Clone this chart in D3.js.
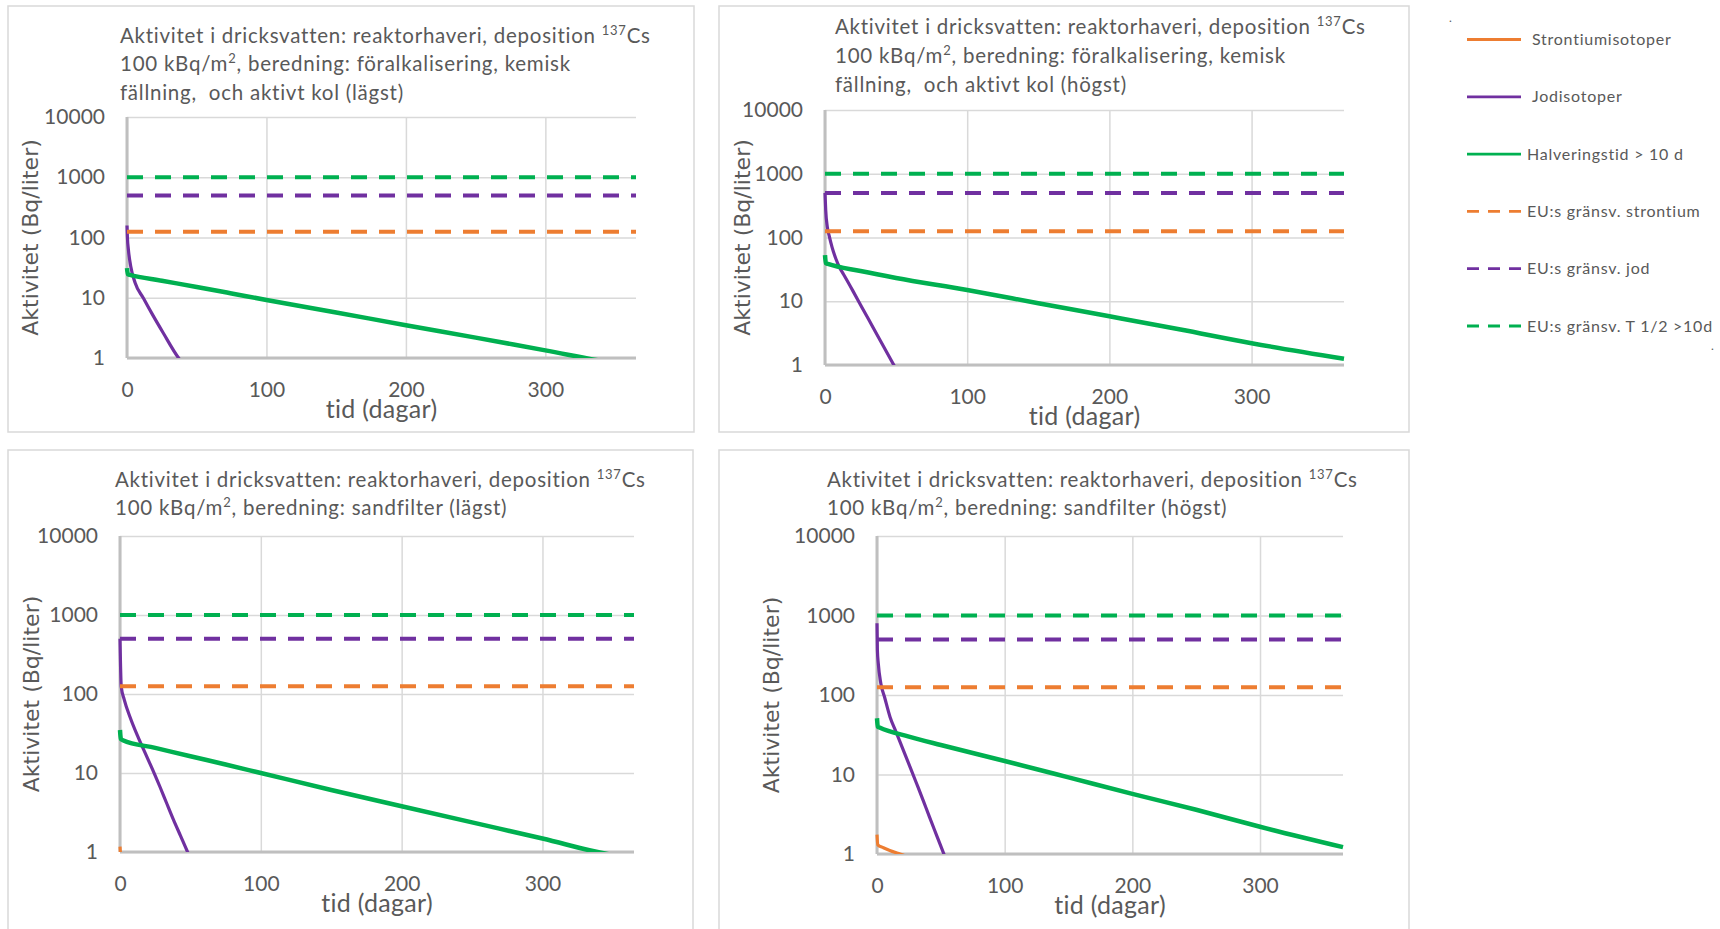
<!DOCTYPE html>
<html>
<head>
<meta charset="utf-8">
<script src="https://cdn.jsdelivr.net/npm/d3@7"></script>
<style>
  body { margin: 0; background: #fff; }
  svg { display: block; }
  text { font-family: Lato, "Open Sans", sans-serif; fill: #595959; white-space: pre; }
</style>
</head>
<body>
<div id="chart"></div>
<script>
// axis ticks and labels
const xTicks = [0, 100, 200, 300];
const yTicks = [1, 10, 100, 1000, 10000];
const xMax = 365;
const xLabel = "tid (dagar)";
const yLabel = "Aktivitet (Bq/liter)";
const legendLabels = ["Strontiumisotoper", "Jodisotoper", "Halveringstid > 10 d",
  "EU:s gränsv. strontium", "EU:s gränsv. jod", "EU:s gränsv. T 1/2 >10d"];
// EU limits: strontium, jod, T1/2 > 10 d
const limitValues = [125, 500, 1000];

// titles: odd segments are superscripts
const titleP1 = [["Aktivitet i dricksvatten: reaktorhaveri, deposition ", "137", "Cs"],
  ["100 kBq/m", "2", ", beredning: föralkalisering, kemisk"],
  ["fällning,  och aktivt kol (lägst)"]];
const titleP2 = [["Aktivitet i dricksvatten: reaktorhaveri, deposition ", "137", "Cs"],
  ["100 kBq/m", "2", ", beredning: föralkalisering, kemisk"],
  ["fällning,  och aktivt kol (högst)"]];
const titleP3 = [["Aktivitet i dricksvatten: reaktorhaveri, deposition ", "137", "Cs"],
  ["100 kBq/m", "2", ", beredning: sandfilter (lägst)"]];
const titleP4 = [["Aktivitet i dricksvatten: reaktorhaveri, deposition ", "137", "Cs"],
  ["100 kBq/m", "2", ", beredning: sandfilter (högst)"]];

// series [day, Bq/liter]
const srP1 = [];
const jodP1 = [[0,158],[0.3,100],[1,63],[2.7,33],[5.8,17.8],[11.8,9.8],[17.8,5.5],[26,2.6],[37,1],[42,0.72]];
const halvP1 = [[0,31],[0.6,24.5],[2,24],[25,19.2],[50,15.1],[75,11.8],[100,9.2],[150,5.7],[200,3.5],[250,2.18],[300,1.34],[350,0.83],[365,0.76]];

const srP2 = [];
const jodP2 = [[0,500],[0.5,270],[1.6,148],[3,105],[5,70],[7.7,46],[10.5,33],[13,26.5],[19.8,14.3],[26,8],[33.9,3.85],[41,1.99],[48.4,1],[52,0.72]];
const halvP2 = [[0,53],[0.6,39.5],[2,38.5],[25,29.8],[50,23.2],[100,15],[150,9.3],[200,5.8],[250,3.6],[300,2.2],[365,1.25]];

const srP3 = [[0,1.17],[0.5,0.9],[2,0.8]];
const jodP3 = [[0,500],[0.3,270],[0.9,123],[3,85],[7.3,50],[13,28],[19.1,16],[24,10.2],[28.5,6.6],[33,4.2],[38,2.55],[43,1.6],[48,1],[52,0.7]];
const halvP3 = [[0,35],[0.6,27],[2,26],[25,20.8],[50,16.3],[75,12.8],[100,10],[150,6.1],[200,3.8],[250,2.37],[300,1.48],[350,0.92],[365,0.86]];

const srP4 = [[0,1.75],[0.6,1.3],[5,1.2],[10,1.11],[18,1],[22,0.95]];
const jodP4 = [[0,800],[0.3,368],[1,250],[3,140],[6,93],[10.2,53],[15,34],[20.6,20.3],[26,12.3],[31,7.7],[36,4.8],[41,2.95],[47,1.67],[52.4,1],[56,0.72]];
const halvP4 = [[0,51],[0.6,40],[2,39],[25,30],[50,23.5],[100,14.8],[150,9.2],[200,5.7],[250,3.6],[300,2.2],[365,1.22]];

const colors = {sr: "#ED7D31", jod: "#7030A0", halv: "#00B050"};

// layout of the four panels
const panels = [
  {box:[8,6,694,432], plot:[127,636,117,358], titleX:120, titleY:42.7, yTitleX:30,
   title:titleP1, sr:srP1, jod:jodP1, halv:halvP1},
  {box:[719,6,1409,432], plot:[825,1344,110,365], titleX:835, titleY:34.3, yTitleX:742,
   title:titleP2, sr:srP2, jod:jodP2, halv:halvP2},
  {box:[8,450,693,960], plot:[120,634,536,852], titleX:115, titleY:486.7, yTitleX:31,
   title:titleP3, sr:srP3, jod:jodP3, halv:halvP3},
  {box:[719,450,1409,960], plot:[877,1343,536,854], titleX:827, titleY:486.7, yTitleX:771,
   title:titleP4, sr:srP4, jod:jodP4, halv:halvP4}
];

const W = 1720, H = 929;
const svg = d3.select("#chart").append("svg").attr("width", W).attr("height", H);

panels.forEach((p, i) => {
  const [x0, x1, y0, y1] = p.plot;
  const x = d3.scaleLinear().domain([0, xMax]).range([x0, x1]);
  const y = d3.scaleLog().domain([1, 10000]).range([y1, y0]);
  const g = svg.append("g");

  // panel border
  g.append("rect")
    .attr("x", p.box[0]).attr("y", p.box[1])
    .attr("width", p.box[2] - p.box[0]).attr("height", p.box[3] - p.box[1])
    .attr("fill", "none").attr("stroke", "#d9d9d9").attr("stroke-width", 1.5);

  // title
  const t = g.append("text").attr("font-size", 20.5).style("letter-spacing", "0.75px");
  p.title.forEach((line, li) => {
    line.forEach((seg, si) => {
      const ts = t.append("tspan").text(seg);
      if (si === 0) ts.attr("x", p.titleX).attr("y", p.titleY + li * 28.6);
      if (si % 2 === 1) ts.attr("font-size", 13).attr("dy", -8);
      else if (si > 0) ts.attr("dy", 8);
    });
  });

  // gridlines
  g.append("g").attr("transform", `translate(${x0},0)`)
    .call(d3.axisLeft(y).tickValues(yTicks).tickSize(-(x1 - x0)).tickFormat(""))
    .call(a => a.select(".domain").remove())
    .selectAll("line").attr("stroke", "#d9d9d9").attr("stroke-width", 1.5);
  g.append("g").attr("transform", `translate(0,${y1})`)
    .call(d3.axisBottom(x).tickValues(xTicks).tickSize(-(y1 - y0)).tickFormat(""))
    .call(a => a.select(".domain").remove())
    .selectAll("line").attr("stroke", "#d9d9d9").attr("stroke-width", 1.5);

  // axis lines
  g.append("line").attr("x1", x(0)).attr("x2", x(0)).attr("y1", y(10000)).attr("y2", y(1))
    .attr("stroke", "#bfbfbf").attr("stroke-width", 3);
  g.append("line").attr("x1", x(0)).attr("x2", x(xMax)).attr("y1", y(1)).attr("y2", y(1))
    .attr("stroke", "#bfbfbf").attr("stroke-width", 3);

  // tick labels
  g.append("g").attr("transform", `translate(${x0},0)`)
    .call(d3.axisLeft(y).tickValues(yTicks).tickSize(0).tickPadding(22).tickFormat(d3.format("d")))
    .call(a => a.select(".domain").remove())
    .selectAll("text").attr("font-size", 21).attr("font-family", "Lato").attr("fill", "#595959");
  g.append("g").attr("transform", `translate(0,${y1})`)
    .call(d3.axisBottom(x).tickValues(xTicks).tickSize(0).tickPadding(24))
    .call(a => a.select(".domain").remove())
    .selectAll("text").attr("font-size", 21).attr("font-family", "Lato").attr("fill", "#595959");

  // axis titles
  g.append("text").attr("x", (x0 + x1) / 2).attr("y", y1 + 60)
    .attr("text-anchor", "middle").attr("font-size", 25).style("letter-spacing", "0.3px")
    .text(xLabel);
  g.append("text")
    .attr("transform", `translate(${p.yTitleX},${(y0 + y1) / 2}) rotate(-90)`)
    .attr("text-anchor", "middle").attr("dy", "0.35em")
    .attr("font-size", 22).style("font-family", "'DejaVu Sans', sans-serif")
    .text(yLabel);

  // clip lines to the plot's value range
  g.append("clipPath").attr("id", "clip" + i)
    .append("rect").attr("x", x0 - 6).attr("y", y0).attr("width", x1 - x0 + 14).attr("height", y1 - y0);
  const plot = g.append("g").attr("clip-path", `url(#clip${i})`);

  const line = d3.line().x(d => x(d[0])).y(d => y(d[1])).curve(d3.curveMonotoneX);

  [[p.sr, colors.sr, 3.2], [p.jod, colors.jod, 3.2], [p.halv, colors.halv, 4.5]].forEach(([data, c, w]) => {
    if (!data.length) return;
    plot.append("path").datum(data).attr("d", line)
      .attr("fill", "none").attr("stroke", c).attr("stroke-width", w)
      .attr("stroke-linejoin", "round");
  });

  const limitColors = [colors.sr, colors.jod, colors.halv];
  limitValues.forEach((v, k) => {
    plot.append("path").datum([[0, v], [xMax, v]]).attr("d", line)
      .attr("fill", "none").attr("stroke", limitColors[k]).attr("stroke-width", 4)
      .attr("stroke-dasharray", "16,12");
  });
});

// legend
const legendColors = [colors.sr, colors.jod, colors.halv, colors.sr, colors.jod, colors.halv];
const legend = svg.append("g");
legendLabels.forEach((lab, k) => {
  const ly = 39.5 + k * 57.3;
  legend.append("line").attr("x1", 1467).attr("x2", 1521).attr("y1", ly).attr("y2", ly)
    .attr("stroke", legendColors[k]).attr("stroke-width", 2.8)
    .attr("stroke-dasharray", k > 2 ? "12,9" : null);
  legend.append("text").attr("x", k < 2 ? 1532 : 1527).attr("y", ly).attr("dy", "0.35em")
    .attr("font-size", 16).style("letter-spacing", "0.75px").text(lab);
});
legend.append("text").attr("x", 1449).attr("y", 22).attr("font-size", 12).text(".");
legend.append("text").attr("x", 1711).attr("y", 350).attr("font-size", 12).text(".");
</script>
</body>
</html>
